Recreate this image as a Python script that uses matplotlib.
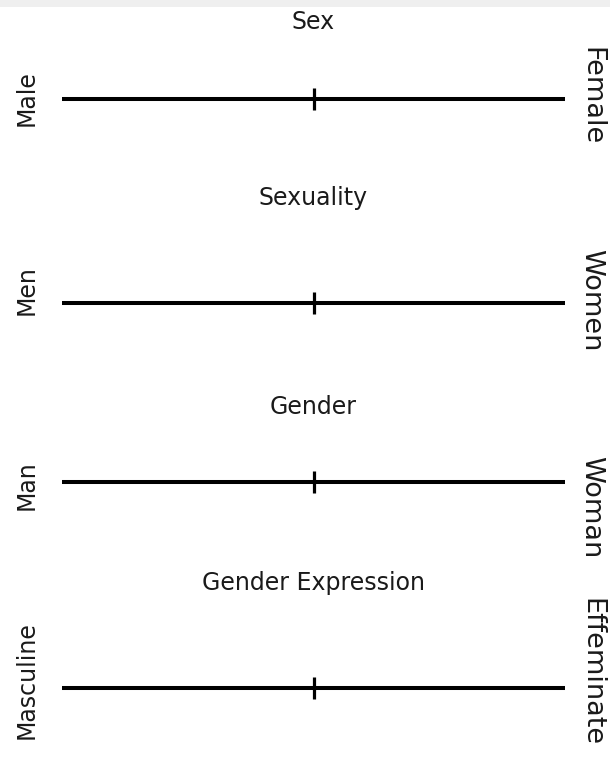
import matplotlib
matplotlib.use("Agg")
import matplotlib.pyplot as plt
from matplotlib.patches import Rectangle

# ---- data ----
dimensions = ["Sex", "Sexuality", "Gender", "Gender Expression"]
left_labels = ["Male", "Men", "Man", "Masculine"]
right_labels = ["Female", "Women", "Woman", "Effeminate"]
scale_range = [-1.0, 1.0]
marker_values = [0.0, 0.0, 0.0, 0.0]

# ---- layout (pixels) ----
W, H = 610, 761
line_left, line_right = 62, 565
row_line_y = [99, 303, 482, 688]
title_y = [22, 198, 407, 583]
right_label_y = [96, 300, 507, 672]
left_label_y = [98, 290, 485, 680]

fig = plt.figure(figsize=(W / 100, H / 100), dpi=100)
fig.patch.set_facecolor("white")
fig.patches.append(Rectangle((0, 1 - 7 / H), 1, 7 / H, transform=fig.transFigure,
                             facecolor="#efefef", edgecolor="none", zorder=0))

txt_color = "#1a1a1a"
ax_h = 40
for i, name in enumerate(dimensions):
    y = row_line_y[i]
    ax = fig.add_axes([line_left / W, 1 - (y + ax_h / 2) / H,
                       (line_right - line_left) / W, ax_h / H])
    ax.set_xlim(scale_range)
    ax.set_ylim(-1, 1)
    ax.axis("off")
    ax.plot(scale_range, [0, 0], color="black", lw=2.9, solid_capstyle="butt")
    ax.plot([marker_values[i]], [0], marker="|", markersize=16.5,
            markeredgewidth=2.3, color="black", linestyle="none")
    fig.text(0.5 * (line_left + line_right) / W, 1 - title_y[i] / H, name,
             ha="center", va="center", fontsize=17, color=txt_color,
             family="DejaVu Sans")
    fig.text(27 / W, 1 - left_label_y[i] / H, left_labels[i], rotation=90,
             ha="center", va="center", fontsize=17, color=txt_color,
             family="DejaVu Sans")
    fig.text(578 / W, 1 - right_label_y[i] / H, right_labels[i], rotation=270,
             ha="left", va="center", fontsize=19.5, color=txt_color,
             family="DejaVu Sans")

fig.savefig("out.png", dpi=100)
